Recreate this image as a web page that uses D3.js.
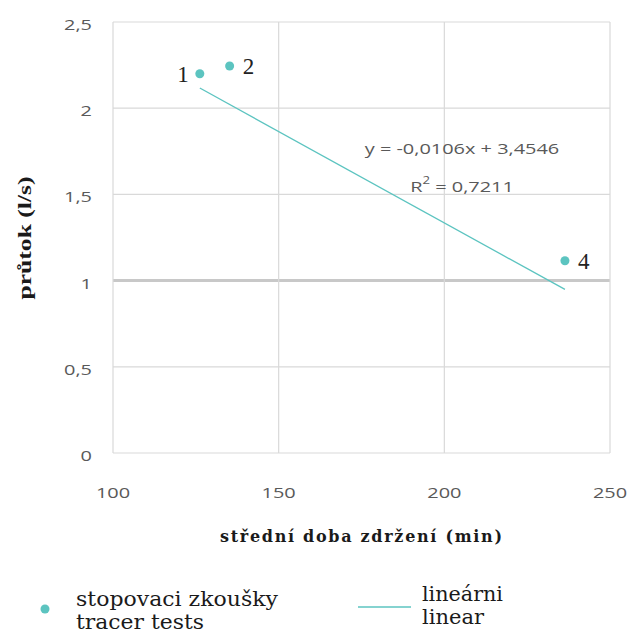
<!DOCTYPE html>
<html><head><meta charset="utf-8">
<script src="https://cdnjs.cloudflare.com/ajax/libs/d3/7.8.5/d3.min.js"></script>
<style>body{margin:0;background:#fff}</style>
</head><body>
<svg id="c" width="629" height="636"></svg>
<script>
const pointLabels = ["1", "2", "4"];
const retentionTime = [126.2, 135.2, 236.4];
const flowRate = [2.20, 2.245, 1.115];
const trendSlope = -0.0106;
const trendIntercept = 3.4546;
const xTicks = [100, 150, 200, 250];
const yTicks = [0, 0.5, 1, 1.5, 2, 2.5];
const xTitle = "střední doba zdržení (min)";
const yTitle = "průtok (l/s)";
const eqText = "y = -0,0106x + 3,4546";
const r2Text = "0,7211";
const legendScatter = ["stopovaci zkoušky", "tracer tests"];
const legendLine = ["lineárni", "linear"];

const svg = d3.select("#c");
const L = 113, R = 610, T = 22, B = 453;
const x = d3.scaleLinear().domain([100, 250]).range([L, R]);
const y = d3.scaleLinear().domain([0, 2.5]).range([B, T]);
const teal = "#5cc4c0";
const sans = "'Open Sans', 'Noto Sans', sans-serif";
const serif = "'Liberation Serif', 'Times New Roman', serif";
const wideSerif = "'DejaVu Serif', 'Liberation Serif', serif";
const SX = 1.33; // horizontal stretch of the reference image
const fmt = v => String(v).replace(".", ",");

// gridlines
svg.append("g").selectAll("line").data(yTicks).join("line")
  .attr("x1", L).attr("x2", R).attr("y1", d => y(d)).attr("y2", d => y(d))
  .attr("stroke", d => d === 1 ? "#c8c8c8" : "#d9d9d9")
  .attr("stroke-width", d => d === 1 ? 3 : 1.2);
svg.append("g").selectAll("line").data(xTicks).join("line")
  .attr("y1", T).attr("y2", B).attr("x1", d => x(d)).attr("x2", d => x(d))
  .attr("stroke", "#d9d9d9").attr("stroke-width", 1.2);

// tick labels (stretched horizontally)
svg.append("g").selectAll("g").data(yTicks).join("g")
  .attr("transform", d => `translate(92,${y(d) + 8}) scale(${SX},1)`)
  .append("text").attr("text-anchor", "end").attr("font-family", sans)
  .attr("font-size", 15).attr("fill", "#595959").text(fmt);
svg.append("g").selectAll("g").data(xTicks).join("g")
  .attr("transform", d => `translate(${x(d)},498) scale(${SX},1)`)
  .append("text").attr("text-anchor", "middle").attr("font-family", sans)
  .attr("font-size", 15).attr("fill", "#595959").text(d => d);

// trend line
const xr = d3.extent(retentionTime);
svg.append("line")
  .attr("x1", x(xr[0])).attr("y1", y(trendSlope * xr[0] + trendIntercept))
  .attr("x2", x(xr[1])).attr("y2", y(trendSlope * xr[1] + trendIntercept))
  .attr("stroke", teal).attr("stroke-width", 1.3);

// points
const pts = retentionTime.map((v, i) => ({x: v, y: flowRate[i], l: pointLabels[i]}));
svg.append("g").selectAll("circle").data(pts).join("circle")
  .attr("cx", d => x(d.x)).attr("cy", d => y(d.y)).attr("r", 4.5).attr("fill", teal);
svg.append("g").selectAll("text").data(pts).join("text")
  .attr("x", (d, i) => i === 0 ? x(d.x) - 11 : x(d.x) + 13)
  .attr("y", d => y(d.y) + 8)
  .attr("text-anchor", (d, i) => i === 0 ? "end" : "start")
  .attr("font-family", serif).attr("font-size", 23).attr("fill", "#222")
  .text(d => d.l);

// equation
svg.append("g").attr("transform", `translate(462,154) scale(${SX},1)`)
  .append("text").attr("text-anchor", "middle")
  .attr("font-family", sans).attr("font-size", 15).attr("fill", "#595959").text(eqText);
const r2 = svg.append("g").attr("transform", `translate(462,192) scale(${SX},1)`)
  .append("text").attr("text-anchor", "middle")
  .attr("font-family", sans).attr("font-size", 15).attr("fill", "#595959");
r2.append("tspan").text("R");
r2.append("tspan").attr("dy", -8).attr("font-size", 10).text("2");
r2.append("tspan").attr("dy", 8).text(" = " + r2Text);

// axis titles
svg.append("text").attr("x", 361).attr("y", 542).attr("text-anchor", "middle")
  .attr("font-family", wideSerif).attr("font-weight", "bold").attr("font-size", 16)
  .attr("fill", "#1a1a1a").attr("textLength", 282).attr("lengthAdjust", "spacing").text(xTitle);
svg.append("text").attr("transform", "translate(31,238) rotate(-90)").attr("text-anchor", "middle")
  .attr("font-family", serif).attr("font-weight", "bold").attr("font-size", 19)
  .attr("fill", "#1a1a1a").attr("textLength", 123).attr("lengthAdjust", "spacingAndGlyphs").text(yTitle);

// legend
svg.append("circle").attr("cx", 45).attr("cy", 609).attr("r", 4.5).attr("fill", teal);
svg.append("text").attr("x", 76).attr("y", 606).attr("font-family", wideSerif)
  .attr("font-size", 20).attr("fill", "#1a1a1a").attr("textLength", 202).attr("lengthAdjust", "spacingAndGlyphs")
  .text(legendScatter[0]);
svg.append("text").attr("x", 76).attr("y", 629).attr("font-family", wideSerif)
  .attr("font-size", 20).attr("fill", "#1a1a1a").attr("textLength", 128).attr("lengthAdjust", "spacingAndGlyphs")
  .text(legendScatter[1]);
svg.append("line").attr("x1", 358).attr("x2", 411).attr("y1", 607).attr("y2", 607)
  .attr("stroke", teal).attr("stroke-width", 1.5);
svg.append("text").attr("x", 422).attr("y", 601).attr("font-family", wideSerif)
  .attr("font-size", 20).attr("fill", "#1a1a1a").attr("textLength", 81).attr("lengthAdjust", "spacingAndGlyphs")
  .text(legendLine[0]);
svg.append("text").attr("x", 422).attr("y", 624).attr("font-family", wideSerif)
  .attr("font-size", 20).attr("fill", "#1a1a1a").attr("textLength", 62).attr("lengthAdjust", "spacingAndGlyphs")
  .text(legendLine[1]);
</script>
</body></html>
